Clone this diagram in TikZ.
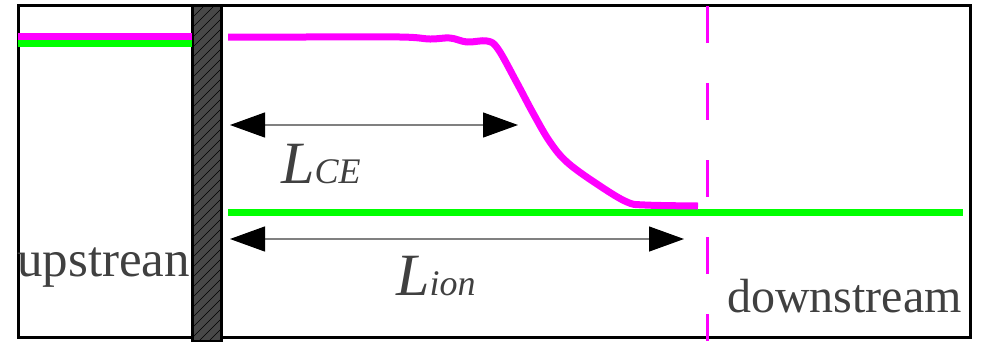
\documentclass[tikz,border=0pt]{standalone}
\usepackage{fontspec}
\setmainfont{Liberation Serif}
\usetikzlibrary{arrows.meta}
\definecolor{mag}{RGB}{255,0,255}
\definecolor{grn}{RGB}{0,255,0}
\definecolor{txt}{RGB}{64,64,64}
\definecolor{wallc}{RGB}{72,72,72}
\tikzset{
  boxline/.style={draw=black, line width=3pt},
  magline/.style={draw=mag, line width=7pt},
  grnline/.style={draw=grn, line width=7pt},
  dimarrow/.style={draw=gray, line width=1.3pt, {Triangle[length=35pt,width=25pt,fill=black,color=black]}-{Triangle[length=35pt,width=25pt,fill=black,color=black]}},
  label/.style={text=txt, inner sep=0pt},
}
\begin{document}
\begin{tikzpicture}[x=1pt,y=-1pt]
\useasboundingbox (0,0) rectangle (983,341);
% boxes
\draw[boxline] (18,5) rectangle (192,337);
\draw[boxline] (221,5) rectangle (970,337);
% wall
\fill[wallc] (192,5) rectangle (221,341);
\begin{scope}
  \clip (192,5) rectangle (221,341);
  \foreach \k in {0,...,40} {
    \draw[black, line width=0.6pt] (190,{10+\k*10}) -- (225,{-25+\k*10});
  }
\end{scope}
\draw[black, line width=3pt] (192,5) rectangle (221,341);
% upstream lines
\draw[magline] (18,36) -- (192,36);
\draw[grnline] (18,43) -- (192,43);
% downstream green
\coordinate (g1) at (228,212);
\coordinate (g2) at (963,212);
\draw[grnline] (g1) -- (g2);
% magenta profile
\draw[magline, line join=round] plot[smooth, tension=0.6] coordinates {
  (228,37) (300,37) (400,37) (430,39) (450,38) (467,42) (487,41) (498,49)
  (517,83) (533,113) (550,142) (568,163) (600,186) (627,202) (645,205) (698,206)};
% dashed vertical
\coordinate (d1) at (707,6);
\coordinate (d2) at (707,341);
\draw[draw=mag, line width=3pt, dash pattern=on 37pt off 40pt] (d1) -- (d2);
% dimension arrows
\coordinate (a1) at (230,125);
\coordinate (a2) at (518,125);
\draw[dimarrow] (a1) -- (a2);
\coordinate (b1) at (230,239);
\coordinate (b2) at (684,239);
\draw[dimarrow] (b1) -- (b2);
% labels
\node[label, anchor=base west] (lce) at (281,183) {\fontsize{60}{70}\selectfont\itshape L\fontsize{36}{40}\selectfont CE};
\node[label, anchor=base west] (lion) at (396,295) {\fontsize{60}{70}\selectfont\itshape L\fontsize{36}{40}\selectfont ion};
\node[label, anchor=base west] (up) at (17,276) {\fontsize{51}{60}\selectfont upstrean};
\node[label, anchor=base east] (down) at (962,312) {\fontsize{48}{56}\selectfont downstream};
\end{tikzpicture}
\end{document}
